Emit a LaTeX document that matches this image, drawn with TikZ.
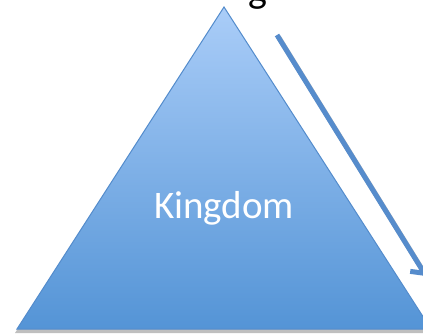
\documentclass[tikz,border=0pt]{standalone}
\usepackage{fontspec}
\setmainfont{Carlito}
\usetikzlibrary{arrows.meta,calc}
\definecolor{toptri}{RGB}{170,205,248}
\definecolor{bottri}{RGB}{84,148,214}
\definecolor{edgeblue}{RGB}{84,140,204}
\definecolor{arrowblue}{RGB}{86,140,204}
\tikzset{
  tri/.style={draw=edgeblue, line width=1pt, top color=toptri, bottom color=bottri},
  shadowtri/.style={fill=black, opacity=0.25},
  flowarrow/.style={draw=arrowblue, line width=5pt, -{Straight Barb[length=9pt,width=22pt,line width=5pt]}},
  label/.style={text=white, font=\fontsize{39}{39}\selectfont, inner sep=0pt},
  titletext/.style={text=black, font=\fontsize{40}{40}\selectfont, inner sep=0pt, anchor=base}
}
\begin{document}
\begin{tikzpicture}[x=1pt,y=-1pt]
\useasboundingbox (0,0) rectangle (423,334);
\fill[white] (0,0) rectangle (423,334);
\coordinate (apex) at (224,7);
\coordinate (bl) at (17,329);
\coordinate (br) at (431,329);
\fill[shadowtri] (224,10) -- (15,333) -- (433,333) -- cycle;
\path[tri] (apex) -- (bl) -- (br) -- cycle;
\node[label] (k) at (224,208) {Kingdom};
\coordinate (a1) at (277,35);
\coordinate (a2) at (426,276);
\draw[draw=black!25, line width=5pt] ($(a1)+(1.5,2)$) -- ($(a2)+(1.5,2)$);
\draw[flowarrow] (a1) -- (a2);
\node[titletext] (t) at (258,3) {g};
\end{tikzpicture}
\end{document}
